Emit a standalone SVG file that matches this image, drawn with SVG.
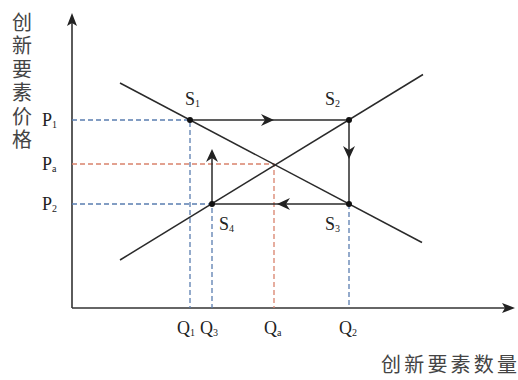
<svg xmlns="http://www.w3.org/2000/svg" width="518" height="380" viewBox="0 0 518 380">
<defs>
<style>
.ax{stroke:#333;stroke-width:1.6;fill:none}
.ln{stroke:#2a2a2a;stroke-width:1.5;fill:none}
.db{stroke:#5a7db0;stroke-width:1.3;stroke-dasharray:5,3;fill:none}
.dr{stroke:#d9826c;stroke-width:1.3;stroke-dasharray:5,3;fill:none}
.lab{font-family:"Liberation Serif",serif;font-size:18px;fill:#222}
.sub{font-size:10px}
.cn{font-family:"Noto Sans CJK SC",sans-serif;font-size:20px;fill:#444}
.dot{fill:#111}
.ah{fill:#222}
</style>
</defs>
<rect width="518" height="380" fill="#fff"/>
<g id="axes">
<line class="ax" x1="72" y1="20" x2="72" y2="308"/>
<polygon class="ah" points="72,13 67,26 72,23 77,26"/>
<line class="ax" x1="72" y1="308" x2="508" y2="308"/>
<polygon class="ah" points="515,308 502,303 505,308 502,313"/>
</g>
<g id="guides">
<path class="db" d="M72,120H190V308"/>
<path class="db" d="M72,204H212V308"/>
<path class="db" d="M349,204V308"/>
<path class="dr" d="M72,164H274V308"/>
</g>
<g id="curves">
<line class="ln" x1="120" y1="83" x2="422" y2="242.5"/>
<line class="ln" x1="120" y1="260" x2="423" y2="74.5"/>
</g>
<g id="connectors">
<line class="ln" x1="190" y1="120" x2="349" y2="120"/>
<polygon class="ah" points="274,120 261,114 265,120 261,126"/>
<line class="ln" x1="349" y1="120" x2="349" y2="204"/>
<polygon class="ah" points="349,159 343,146 349,150 355,146"/>
<line class="ln" x1="349" y1="204" x2="212" y2="204"/>
<polygon class="ah" points="277,204 290,198 286,204 290,210"/>
<line class="ln" x1="212" y1="204" x2="212" y2="158"/>
<polygon class="ah" points="212,149 206,162 212,158 218,162"/>
</g>
<g id="S1"><circle class="dot" cx="190" cy="120" r="3"/><text class="lab" x="185" y="105">S<tspan class="sub" dy="2">1</tspan></text></g>
<g id="S2"><circle class="dot" cx="349" cy="120" r="3"/><text class="lab" x="325" y="105">S<tspan class="sub" dy="2">2</tspan></text></g>
<g id="S3"><circle class="dot" cx="349" cy="204" r="3"/><text class="lab" x="325" y="230">S<tspan class="sub" dy="2">3</tspan></text></g>
<g id="S4"><circle class="dot" cx="212" cy="204" r="3"/><text class="lab" x="219" y="230">S<tspan class="sub" dy="2">4</tspan></text></g>
<g id="ylabels">
<text class="lab" x="42" y="126">P<tspan class="sub" dy="2">1</tspan></text>
<text class="lab" x="42" y="170">P<tspan class="sub" dy="2">a</tspan></text>
<text class="lab" x="42" y="210">P<tspan class="sub" dy="2">2</tspan></text>
</g>
<g id="xlabels">
<text class="lab" x="177" y="334">Q<tspan class="sub" dy="2">1</tspan></text>
<text class="lab" x="200" y="334">Q<tspan class="sub" dy="2">3</tspan></text>
<text class="lab" x="264" y="334">Q<tspan class="sub" dy="2">a</tspan></text>
<text class="lab" x="339" y="334">Q<tspan class="sub" dy="2">2</tspan></text>
</g>
<g id="titles">
<text class="cn" x="22" y="12" writing-mode="vertical-rl" letter-spacing="3.5">创新要素价格</text>
<text class="cn" x="381" y="372" textLength="136" lengthAdjust="spacing">创新要素数量</text>
</g>
</svg>
